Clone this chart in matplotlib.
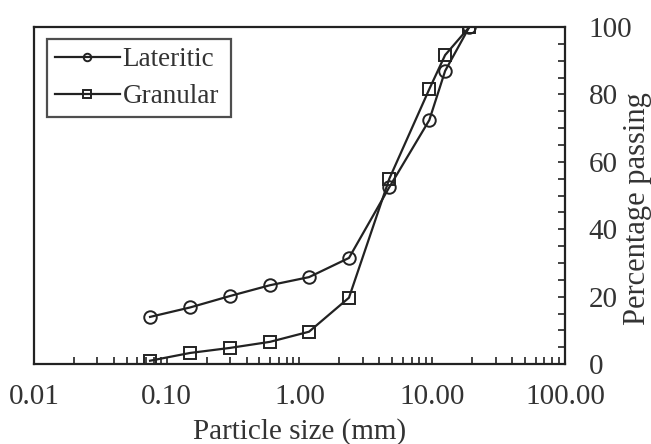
import numpy as np
import matplotlib.pyplot as plt
from matplotlib.ticker import FixedLocator, FormatStrFormatter, LogLocator, NullFormatter, MultipleLocator

plt.rcParams['font.family'] = ['Liberation Serif', 'DejaVu Serif']

sieve_mm = [0.075, 0.15, 0.3, 0.6, 1.18, 2.36, 4.75, 9.5, 12.5, 19.0]
lateritic = [14.0, 16.8, 20.2, 23.4, 25.8, 31.5, 52.5, 72.4, 87.0, 100.0]
granular = [1.0, 3.3, 4.8, 6.6, 9.6, 19.7, 55.0, 81.6, 91.7, 100.0]

x_ticks = [0.01, 0.1, 1, 10, 100]
y_ticks = [0, 20, 40, 60, 80, 100]

col = '#222222'
txt = '#333333'

fig = plt.figure(figsize=(6.51, 4.44), dpi=100)
ax = fig.add_axes([0.052, 0.18, 0.816, 0.759])

ax.plot(sieve_mm, lateritic, color=col, lw=1.6, marker='o', ms=9,
        mfc='none', mec=col, mew=1.4, label='Lateritic')
ax.plot(sieve_mm, granular, color=col, lw=1.6, marker='s', ms=9,
        mfc='none', mec=col, mew=1.4, label='Granular')

ax.set_xscale('log')
ax.set_xlim(0.01, 100)
ax.set_ylim(0, 100)
ax.xaxis.set_major_locator(FixedLocator(x_ticks))
ax.xaxis.set_major_formatter(FormatStrFormatter('%.2f'))
ax.xaxis.set_minor_locator(LogLocator(base=10, subs=np.arange(2, 10)))
ax.xaxis.set_minor_formatter(NullFormatter())
ax.set_yticks(y_ticks)
ax.yaxis.set_minor_locator(MultipleLocator(5))

ax.yaxis.tick_right()
ax.tick_params(axis='both', which='both', direction='in', labelsize=21,
               colors=col, labelcolor=txt, width=1.2, length=5)
ax.tick_params(axis='x', which='both', pad=14)
ax.tick_params(axis='y', which='both', pad=17)

for s in ax.spines.values():
    s.set_linewidth(1.6)
    s.set_color(col)

ax.set_xlabel('Particle size (mm)', fontsize=21, color=txt, labelpad=6)
# y label sits at the far right edge
fig.text(637 / 651, 0.53, 'Percentage passing', rotation=90, fontsize=22,
         color=txt, ha='center', va='center')

leg = ax.legend(loc='upper left', bbox_to_anchor=(0.024, 0.965, 0.348, 0.0),
                mode='expand', fontsize=19.5, frameon=True, fancybox=False,
                edgecolor=col, handlelength=2.4, handletextpad=0.1,
                borderpad=0.3, labelspacing=0.45, borderaxespad=0.0,
                markerscale=0.6)
leg.get_frame().set_linewidth(1.6)
for t in leg.get_texts():
    t.set_color(txt)

fig.savefig('out.png', dpi=100)
